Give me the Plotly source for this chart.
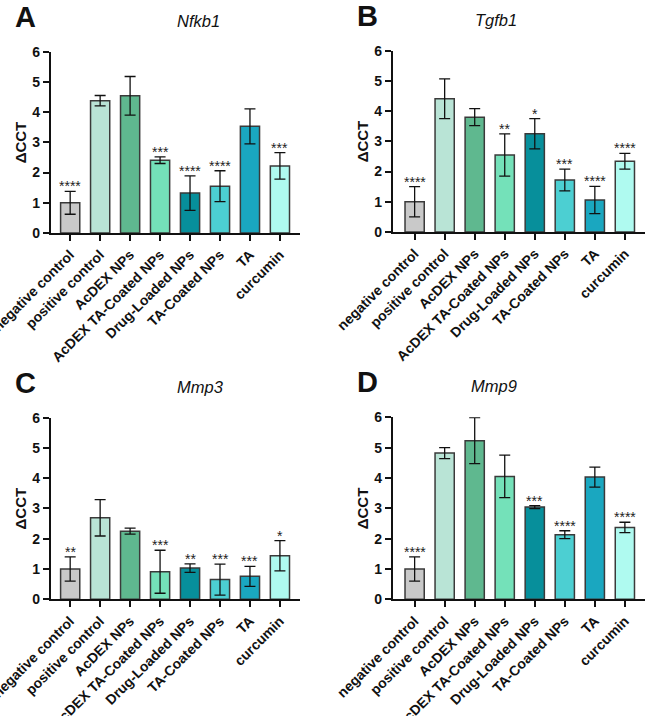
import plotly.graph_objects as go

categories = ["negative control", "positive control", "AcDEX NPs", "AcDEX TA-Coated NPs",
              "Drug-Loaded NPs", "TA-Coated NPs", "TA", "curcumin"]
colors = ["#c9c9c9", "#b9e4d6", "#5fb88f", "#74e1b9", "#078f9b", "#4ccfd2", "#1aa7c0", "#affaf0"]

nfkb1_mean = [1.0, 4.38, 4.54, 2.41, 1.32, 1.55, 3.53, 2.22]
nfkb1_err = [0.38, 0.17, 0.64, 0.11, 0.57, 0.51, 0.58, 0.44]
nfkb1_sig = ["****", "", "", "***", "****", "****", "", "***"]

tgfb1_mean = [1.0, 4.41, 3.80, 2.55, 3.25, 1.72, 1.06, 2.34]
tgfb1_err = [0.50, 0.66, 0.28, 0.70, 0.50, 0.36, 0.45, 0.26]
tgfb1_sig = ["****", "", "", "**", "*", "***", "****", "****"]

mmp3_mean = [1.0, 2.69, 2.25, 0.91, 1.03, 0.65, 0.76, 1.44]
mmp3_err = [0.40, 0.60, 0.10, 0.71, 0.14, 0.51, 0.33, 0.50]
mmp3_sig = ["**", "", "", "***", "**", "***", "***", "*"]

mmp9_mean = [1.0, 4.82, 5.23, 4.05, 3.04, 2.13, 4.03, 2.37]
mmp9_err = [0.40, 0.18, 0.76, 0.70, 0.05, 0.13, 0.33, 0.17]
mmp9_sig = ["****", "", "", "", "***", "****", "", "****"]

yticks = [0, 1, 2, 3, 4, 5, 6]

W, H = 646, 716
FONT = "Liberation Sans, Arial, Helvetica, sans-serif"

panels = [
    dict(letter="A", gene="Nfkb1", mean=nfkb1_mean, err=nfkb1_err, sig=nfkb1_sig,
         x0=51, x1=300, y0=233, y6=51.7, xr=[-0.64, 7.67]),
    dict(letter="B", gene="Tgfb1", mean=tgfb1_mean, err=tgfb1_err, sig=tgfb1_sig,
         x0=393, x1=645, y0=232, y6=50.7, xr=[-0.72, 7.67]),
    dict(letter="C", gene="Mmp3", mean=mmp3_mean, err=mmp3_err, sig=mmp3_sig,
         x0=51, x1=300, y0=599.3, y6=417.6, xr=[-0.64, 7.67]),
    dict(letter="D", gene="Mmp9", mean=mmp9_mean, err=mmp9_err, sig=mmp9_sig,
         x0=393, x1=645, y0=599.3, y6=417.3, xr=[-0.72, 7.67]),
]

fig = go.Figure()
annotations = []
layout = dict(
    width=W, height=H, margin=dict(l=0, r=0, t=0, b=0, autoexpand=False),
    paper_bgcolor="white", plot_bgcolor="white", showlegend=False,
    font=dict(family=FONT, color="#000"),
)

for i, p in enumerate(panels):
    n = "" if i == 0 else str(i + 1)
    xa, ya = "x" + n, "y" + n
    fig.add_trace(go.Bar(
        x=list(range(len(categories))), y=p["mean"], xaxis=xa, yaxis=ya,
        marker=dict(color=colors, line=dict(color="#3a3a3a", width=1.5)),
        width=0.64,
        error_y=dict(type="data", array=p["err"], visible=True, color="#111",
                     thickness=1.3, width=5.5),
        hoverinfo="skip",
    ))
    layout["xaxis" + n] = dict(
        domain=[p["x0"] / W, p["x1"] / W], anchor=ya, range=p["xr"], automargin=False,
        tickmode="array", tickvals=list(range(len(categories))), ticktext=categories,
        tickangle=-45, ticks="outside", ticklen=6, tickwidth=2, tickcolor="#111",
        ticklabeloverflow="allow",
        showline=True, linecolor="#111", linewidth=2.2, showgrid=False, zeroline=False,
        tickfont=dict(family=FONT, size=14, color="#111", weight="bold"),
        fixedrange=True,
    )
    layout["yaxis" + n] = dict(
        domain=[1 - p["y0"] / H, 1 - p["y6"] / H], anchor=xa, range=[0, 6], automargin=False,
        tickmode="array", tickvals=yticks, ticks="outside", ticklen=6, tickwidth=2,
        tickcolor="#111", showline=True, linecolor="#111", linewidth=2.2,
        showgrid=False, zeroline=False, ticklabeloverflow="allow",
        tickfont=dict(family=FONT, size=14, color="#111", weight="bold"),
        fixedrange=True,
    )
    # significance stars
    for j, s in enumerate(p["sig"]):
        if s:
            annotations.append(dict(
                x=j, y=p["mean"][j] + p["err"][j], xref=xa, yref=ya, text=s,
                showarrow=False, yanchor="bottom", yshift=-5,
                font=dict(family=FONT, size=14, color="#222"),
            ))
    # gene title
    annotations.append(dict(
        x=(p["x0"] + p["x1"]) / 2 / W, y=1 - (p["y6"] - 31) / H, xref="paper", yref="paper",
        text="<i>" + p["gene"] + "</i>", showarrow=False, yanchor="middle",
        font=dict(family=FONT, size=16.5, color="#111"),
    ))
    # panel letter
    annotations.append(dict(
        x=(p["x0"] - 26) / W, y=1 - (p["y6"] - 35) / H, xref="paper", yref="paper",
        text="<b>" + p["letter"] + "</b>", showarrow=False, yanchor="middle", xanchor="center",
        font=dict(family=FONT, size=29, color="#111"),
    ))
    # y axis title
    annotations.append(dict(
        x=(p["x0"] - 31) / W, y=1 - ((p["y0"] + p["y6"]) / 2) / H, xref="paper", yref="paper",
        text="<b>ΔCCT</b>", showarrow=False, textangle=-90, xanchor="center", yanchor="middle",
        font=dict(family=FONT, size=15, color="#111"),
    ))

layout["annotations"] = annotations
fig.update_layout(**layout)
fig.write_html("out.html", config={"displayModeBar": False},
               post_script="document.body.style.margin='0px';document.body.style.overflow='hidden';")
